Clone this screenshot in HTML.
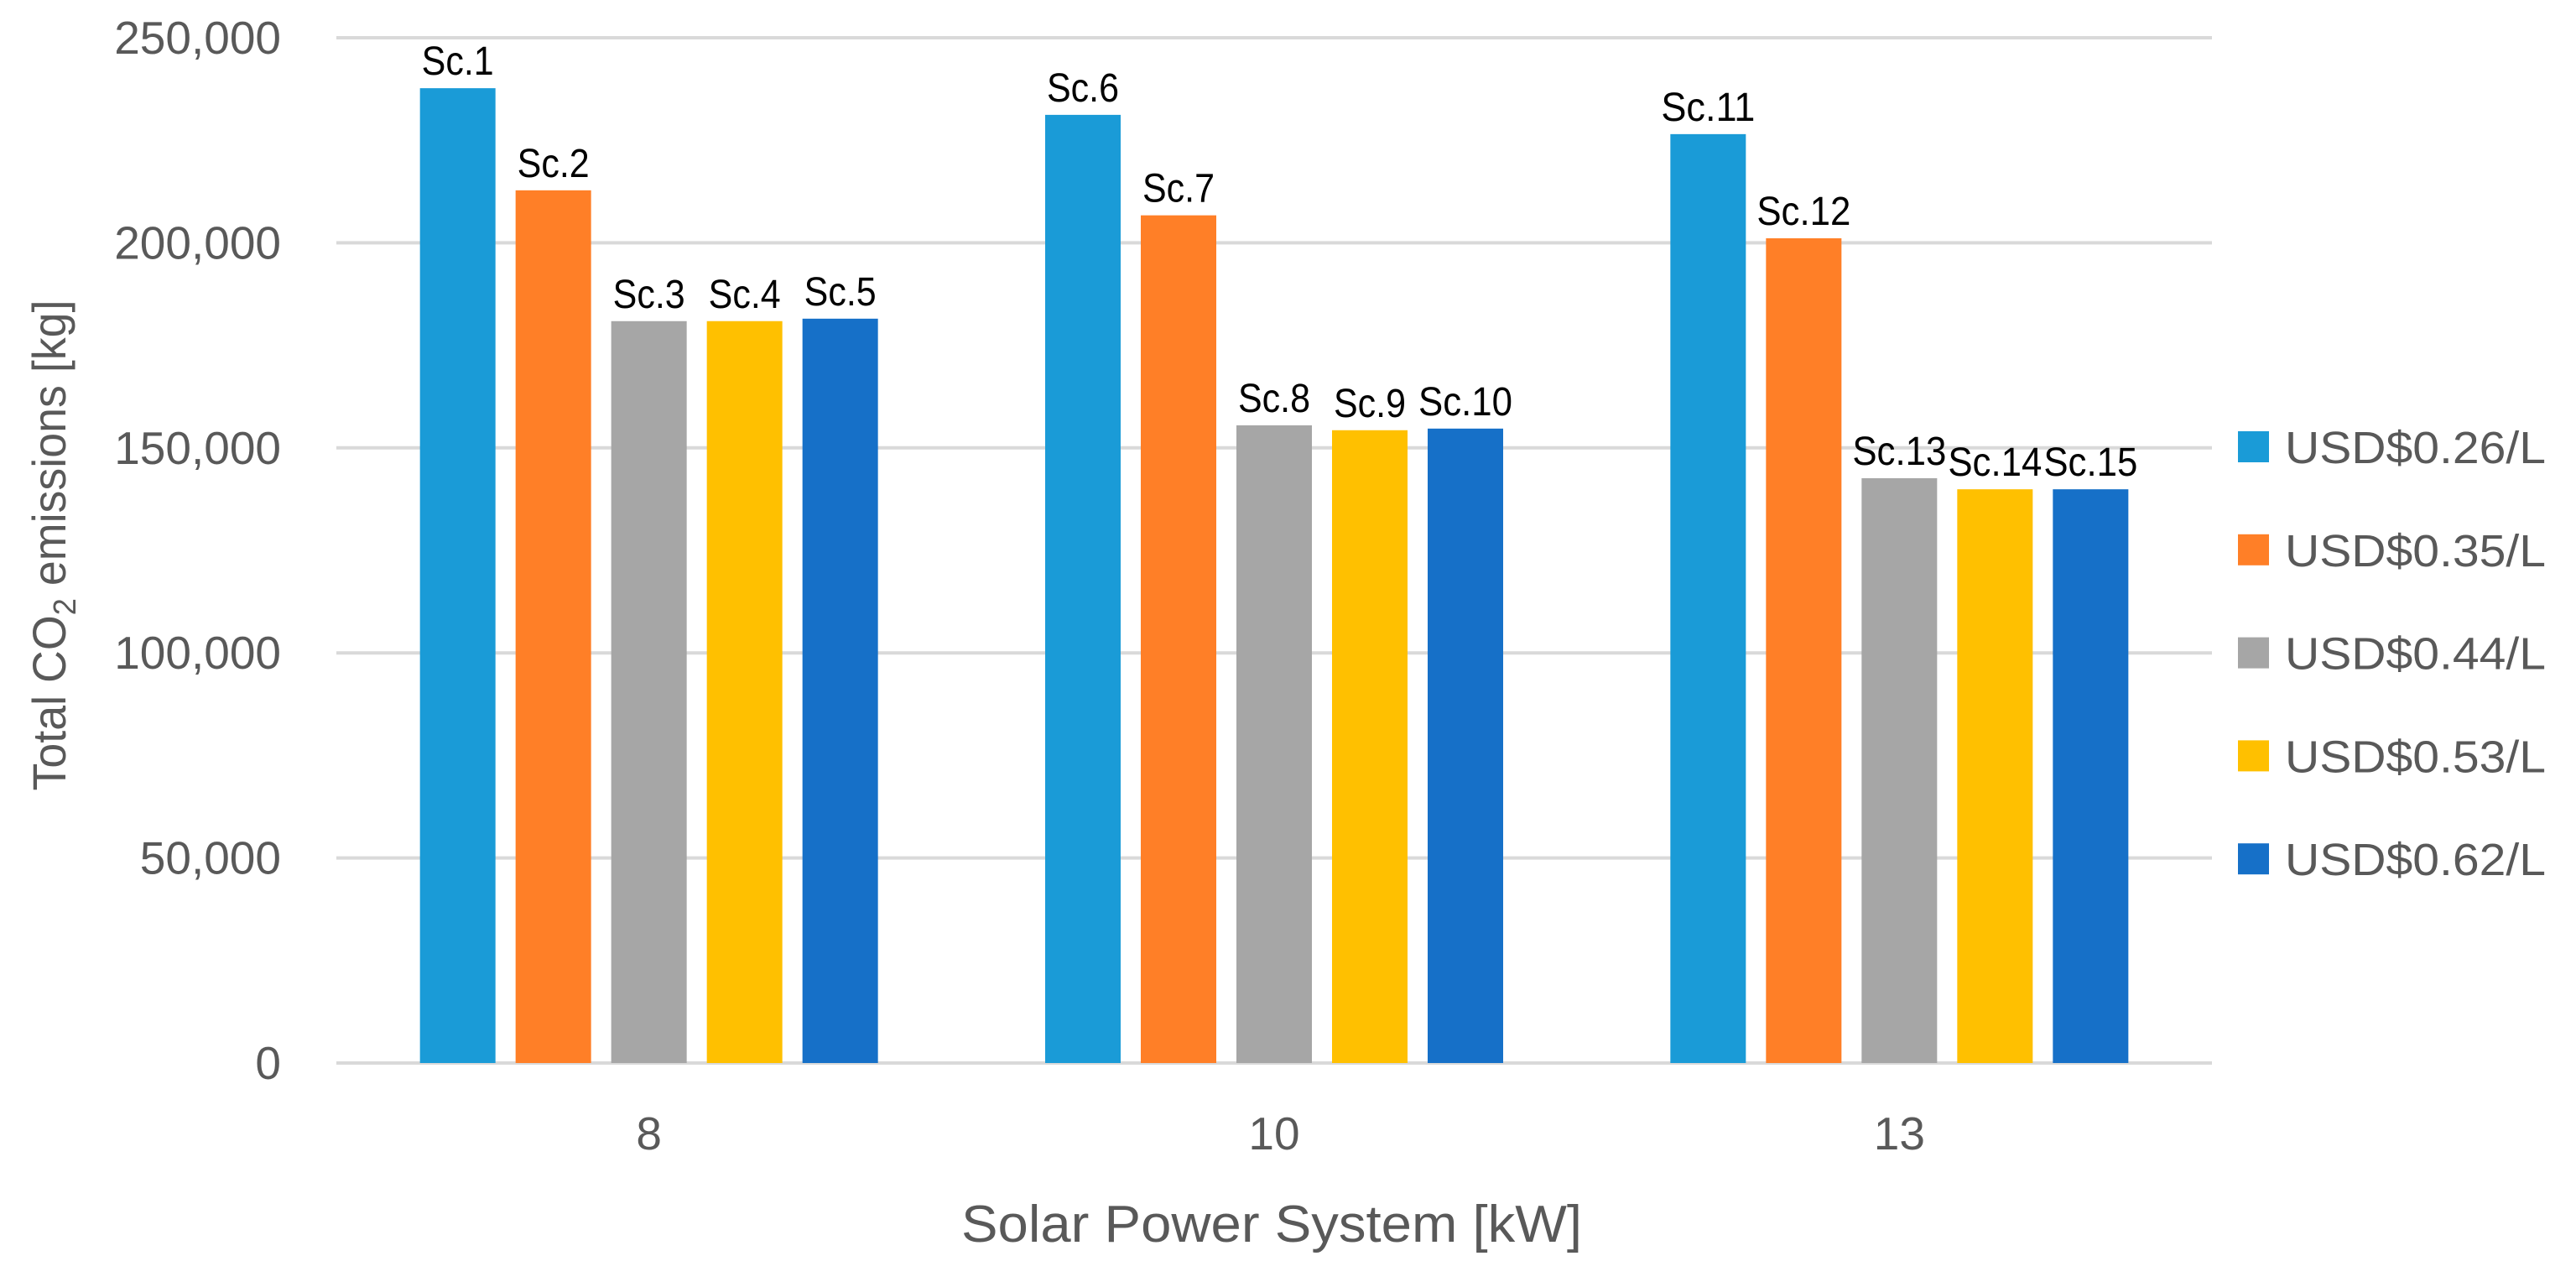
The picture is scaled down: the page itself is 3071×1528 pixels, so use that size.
<!DOCTYPE html>
<html><head><meta charset="utf-8"><style>
html,body{margin:0;padding:0;background:#fff;}
svg{display:block;font-family:"Liberation Sans",sans-serif;}
</style></head><body>
<svg id="chart" width="3071" height="1528" viewBox="0 0 3071 1528" xmlns="http://www.w3.org/2000/svg">
<g id="grid"></g>
<g id="yticks"></g>
<g id="bars"></g>
<g id="labels"></g>
<g id="xticks"></g>
<g id="legend"></g>
<text x="1516" y="1480" text-anchor="middle" font-size="62" fill="#595959" textLength="740" lengthAdjust="spacingAndGlyphs">Solar Power System [kW]</text>
<text transform="translate(78,650) rotate(-90)" text-anchor="middle" font-size="56" fill="#595959" textLength="585" lengthAdjust="spacingAndGlyphs">Total CO<tspan font-size="38" dy="12">2</tspan><tspan dy="-12"> emissions [kg]</tspan></text>
</svg>
<script>
const categories = ["8", "10", "13"];
const seriesNames = ["USD$0.26/L", "USD$0.35/L", "USD$0.44/L", "USD$0.53/L", "USD$0.62/L"];
const seriesColors = ["#1a9bd7", "#ff7f27", "#a6a6a6", "#ffc000", "#1670c8"];
const s026 = [237700, 231200, 226500];
const s035 = [212800, 206700, 201100];
const s044 = [180900, 155500, 142600];
const s053 = [180900, 154300, 139900];
const s062 = [181500, 154700, 139900];
const scenarioLabels = [["Sc.1","Sc.6","Sc.11"],["Sc.2","Sc.7","Sc.12"],["Sc.3","Sc.8","Sc.13"],["Sc.4","Sc.9","Sc.14"],["Sc.5","Sc.10","Sc.15"]];
const yTicks = [0, 50000, 100000, 150000, 200000, 250000];
const yTickLabels = ["0", "50,000", "100,000", "150,000", "200,000", "250,000"];

const series = [s026, s035, s044, s053, s062];
const NS = "http://www.w3.org/2000/svg";
const plotL = 401, plotR = 2637, y0 = 1267, yTop = 45, yMax = 250000;
const catW = (plotR - plotL) / categories.length;
const barW = 90, barPitch = 114;
function yScale(v){ return y0 - v / yMax * (y0 - yTop); }
function xCat(i){ return plotL + catW * (i + 0.5); }
function mk(tag, attrs, parent){ const e = document.createElementNS(NS, tag); for (const k in attrs) e.setAttribute(k, attrs[k]); parent.appendChild(e); return e; }

const grid = document.getElementById('grid'), yt = document.getElementById('yticks');
yTicks.forEach((t, i) => {
  const y = yScale(t);
  const ln = mk('line', {x1: plotL, x2: plotR, y1: y, y2: y, stroke: '#d9d9d9', 'stroke-width': 4}, grid);
  
  
  const tx = mk('text', {x: 335, y: y + 19, 'text-anchor': 'end', 'font-size': 55, fill: '#595959'}, yt);
  
  
  tx.textContent = yTickLabels[i];
});

const bars = document.getElementById('bars'), labs = document.getElementById('labels'), xt = document.getElementById('xticks');
categories.forEach((c, ci) => {
  const cx = xCat(ci);
  const start = cx - (barPitch * (series.length - 1) + barW) / 2;
  series.forEach((s, si) => {
    const x = start + si * barPitch, y = yScale(s[ci]);
    const r = mk('rect', {x: x, y: y, width: barW, height: y0 - y, fill: seriesColors[si]}, bars);
    
    
    const lbl = scenarioLabels[si][ci];
    const t = mk('text', {x: x + barW / 2, y: y - 16, 'text-anchor': 'middle', 'font-size': 48, fill: '#000', textLength: lbl.length > 4 ? 112 : 86, lengthAdjust: 'spacingAndGlyphs'}, labs);
    
    
    t.textContent = lbl;
  });
  const t = mk('text', {x: cx, y: 1370, 'text-anchor': 'middle', 'font-size': 55, fill: '#595959'}, xt);
  
  
  t.textContent = c;
});

const lg = document.getElementById('legend');
seriesNames.forEach((n, i) => {
  const cy = 532 + i * 122.8;
  const g = mk('g', {}, lg);
  
  
  mk('rect', {x: 2668, y: cy - 18, width: 37, height: 37, fill: seriesColors[i]}, g);
  const t = mk('text', {x: 2724, y: cy + 20, 'font-size': 54, fill: '#595959', textLength: 311, lengthAdjust: 'spacingAndGlyphs'}, g);
  t.textContent = n;
});
</script>
</body></html>
